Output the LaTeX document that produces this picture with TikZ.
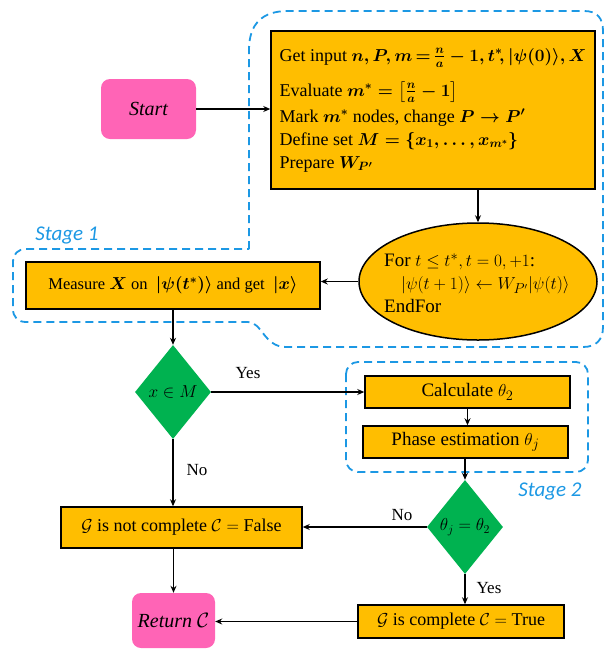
\documentclass[tikz,border=0pt]{standalone}
\usepackage{amsmath}
\usepackage{fontspec}
\setmainfont{Liberation Serif}
\newfontfamily\stagefont{Carlito}
\usetikzlibrary{shapes.geometric,arrows.meta}
\definecolor{orangeF}{RGB}{255,190,0}
\definecolor{pinkF}{RGB}{255,100,182}
\definecolor{greenF}{RGB}{0,178,80}
\definecolor{blueD}{RGB}{28,152,228}
\tikzset{
  every node/.style={font=\fontsize{18}{22}\selectfont},
  proc/.style={draw=black, line width=1.5pt, fill=orangeF, inner sep=0pt, minimum width=#1},
  term/.style={fill=pinkF, rounded corners=9pt, inner sep=0pt, font=\fontsize{20}{22}\selectfont\itshape},
  dec/.style={diamond, fill=greenF, inner sep=0pt, minimum width=76pt, minimum height=94pt},
  arr/.style={-{Stealth[length=7pt,width=6pt]}, line width=1.1pt},
  stagebox/.style={draw=blueD, line width=1.8pt, dash pattern=on 8pt off 5pt},
  stagelabel/.style={text=blueD, font=\fontsize{21}{24}\stagefont\itshape},
  lbl/.style={font=\fontsize{17}{20}\selectfont}
}
\begin{document}
\begin{tikzpicture}[x=1pt,y=-1pt]
\useasboundingbox (0,0) rectangle (605,649);

% stage outlines
\draw[stagebox] (249,249) -- (249,50) .. controls (249,24) and (262,11) .. (288,11)
  -- (584,11) .. controls (597,11) and (603,18) .. (603,31)
  -- (603,327) .. controls (603,340) and (596,347) .. (583,347)
  -- (286,347) .. controls (264,347) and (262,322) .. (248,322)
  -- (26,322) .. controls (18,322) and (13,317) .. (13,309)
  -- (13,262) .. controls (13,254) and (18,249) .. (26,249) -- cycle;
\draw[stagebox, rounded corners=12pt] (346,362) rectangle (588,472);
\node[stagelabel] (s1) at (67,235) {Stage 1};
\node[stagelabel] (s2) at (550,491) {Stage 2};

% nodes
\node[term, minimum width=95pt, minimum height=60pt] (start) at (148.5,109) {Start};
\node[proc=324pt, minimum height=158pt, align=left, font=\fontsize{18}{23}\selectfont] (box1) at (433,110) {%
Get input {\boldmath$n, P, m \,{=}\, \frac{n}{a} - 1, t^{*}\!, |\psi(0)\rangle, X$}\\[12pt]
Evaluate {\boldmath$m^{*} = \left[\frac{n}{a} - 1\right]$}\\[3pt]
Mark {\boldmath$m^{*}$} nodes, change {\boldmath$P \to P'$}\\
Define set {\boldmath$M = \{x_1, \ldots, x_{m^{*}}\}$}\\
Prepare {\boldmath$W_{P'}$}};
\node[ellipse, draw=black, line width=1.5pt, fill=orangeF, minimum width=238pt, minimum height=117pt, inner sep=0pt] (ell) at (478,281.5) {};
\node[anchor=west, align=left, inner sep=0pt, font=\fontsize{19}{23}\selectfont] (elltext) at (384,283) {%
For $t \le t^{*}, t = 0, +1$:\\
\hspace{17pt}$|\psi(t+1)\rangle \leftarrow W_{P'}|\psi(t)\rangle$\\
EndFor};
\node[proc=294pt, minimum height=47pt, font=\fontsize{16.5}{20}\selectfont] (meas) at (173,285.5) {Measure {\boldmath$X$} on\ \ {\boldmath$|\psi(t^{*})\rangle$} and get\ \ {\boldmath$|x\rangle$}};
\node[dec] (d1) at (173,392) {$x \in M$};
\node[proc=205pt, minimum height=32pt, font=\fontsize{19}{22}\selectfont] (calc) at (467.5,392) {Calculate $\theta_2$};
\node[proc=205pt, minimum height=32pt, font=\fontsize{19}{22}\selectfont] (phase) at (465.5,442) {Phase estimation $\theta_j$};
\node[dec, font=\fontsize{17}{20}\selectfont] (d2) at (465,527) {$\theta_j = \theta_2$};
\node[proc=241pt, minimum height=41pt] (notc) at (181.5,527.5) {$\mathcal{G}$ is not complete $\mathcal{C} = $ False};
\node[proc=206pt, minimum height=33pt] (true) at (461,621.5) {$\mathcal{G}$ is complete $\mathcal{C} = $ True};
\node[term, minimum width=83pt, minimum height=55pt] (ret) at (173.5,620.5) {Return $\mathcal{C}$};

% labels
\node[lbl] (yes1) at (248,373) {Yes};
\node[lbl] (no1) at (197,470) {No};
\node[lbl] (no2) at (402,515) {No};
\node[lbl] (yes2) at (489,588) {Yes};

% connectors
\draw[arr] (start.east) -- (box1.west |- start.east);
\draw[arr] (box1.south -| ell.north) -- (ell.north);
\draw[arr] (ell.west) -- (ell.west -| meas.east);
\draw[arr] (meas.south) -- (d1.north);
\draw[arr] (d1.east) -- (calc.west);
\draw[arr] (calc.south) -- (calc.south |- phase.north);
\draw[arr] (phase.south -| d2.north) -- (d2.north);
\draw[arr] (d2.west) -- (d2.west -| notc.east);
\draw[arr] (d2.south) -- (d2.south |- true.north);
\draw[arr] (d1.south) -- (d1.south |- notc.north);
\draw[arr] (ret.north |- notc.south) -- (ret.north);
\draw[arr] (true.west) -- (true.west -| ret.east);
\end{tikzpicture}
\end{document}
